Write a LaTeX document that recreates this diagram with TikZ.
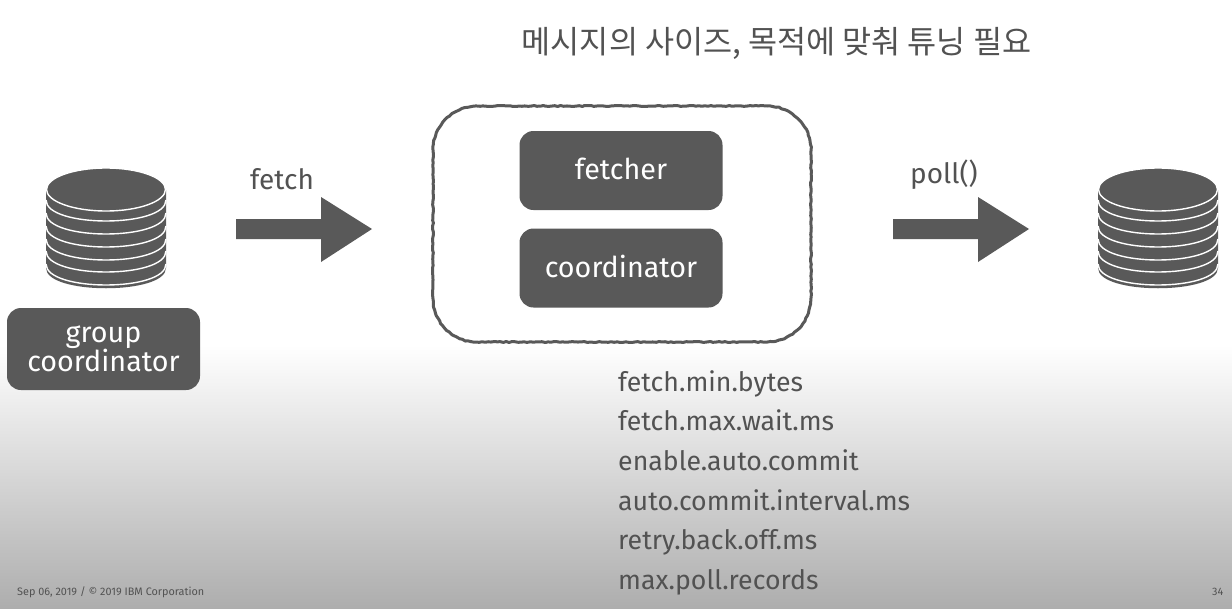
\documentclass[tikz,border=0pt]{standalone}
\usepackage{fontspec}
\setmainfont{Fira Sans}
\newfontfamily\krfont{Noto Sans CJK KR}
\usetikzlibrary{decorations.pathmorphing}
\definecolor{ink}{gray}{0.35}
\definecolor{txt}{gray}{0.32}
\definecolor{low}{gray}{0.68}
\tikzset{
  x=1pt,y=-1pt,
  box/.style={fill=ink,draw=none,rounded corners=14pt,text=white,align=center,inner sep=0pt,font=\fontsize{28.7}{26}\selectfont},
  lab/.style={text=txt,inner sep=0pt,font=\fontsize{28}{28}\selectfont},
  param/.style={text=txt,inner sep=0pt,anchor=base west,font=\fontsize{26.7}{27}\selectfont},
  tiny/.style={text=txt,inner sep=0pt,anchor=base west,font=\fontsize{10.85}{11}\selectfont},
  blockarrow/.style={fill=ink,draw=none},
  rough/.style={draw=ink,line width=3pt,line join=round,decorate,decoration={random steps,segment length=3pt,amplitude=0.5pt}},
  sep/.style={draw=white,line width=1.4pt},
  pics/stack/.style={code={
    \fill[ink] (-60,0) -- (60,0) -- (60,78) .. controls (60,105) and (-60,105) .. (-60,78) -- cycle;
    \foreach \d in {10,23,36,49,61,74}{
      \draw[sep] (-60,\d) .. controls (-60,\d+28) and (60,\d+28) .. (60,\d);
    }
    \draw[white,line width=1.4pt,fill=ink] (0,-0.5) ellipse[x radius=59.5,y radius=21.5];
  }}
}
\begin{document}
\begin{tikzpicture}
\useasboundingbox (0,0) rectangle (1232,608);
\fill[white] (0,0) rectangle (1232,345);
\shade[top color=white,bottom color=low] (0,345) rectangle (1232,608);
\node[lab,font=\krfont\fontsize{31.6}{32}\selectfont,text=txt] (title) at (776.5,43) {메시지의 사이즈, 목적에 맞춰 튜닝 필요};
\pic at (106,190) {stack};
\pic at (1158,190) {stack};
\node[box,minimum width=193pt,minimum height=82pt] (group) at (103.5,349) {group\\coordinator};
\node[lab] (fetchlab) at (282,179.5) {fetch};
\fill[blockarrow] (236,219) -- (321,219) -- (321,197) -- (372,229) -- (321,262) -- (321,239) -- (236,239) -- cycle;
\draw[rough] (477,106) -- (767,106) .. controls (791.3,106) and (811,125.7) .. (811,150) -- (811,298) .. controls (811,322.3) and (791.3,342) .. (767,342) -- (477,342) .. controls (452.7,342) and (433,322.3) .. (433,298) -- (433,150) .. controls (433,125.7) and (452.7,106) .. (477,106) -- cycle;
\node[box,minimum width=203pt,minimum height=79pt] (fetcher) at (621,170.5) {\raisebox{4pt}{fetcher}};
\node[box,minimum width=203pt,minimum height=79pt] (coord) at (621,268) {\raisebox{4pt}{coordinator}};
\node[lab] (polllab) at (944,174.5) {poll()};
\fill[blockarrow] (893,219) -- (978,219) -- (978,197) -- (1029,229) -- (978,262) -- (978,239) -- (893,239) -- cycle;
\node[param] (p1) at (618,391) {fetch.min.bytes};
\node[param] (p2) at (618,430) {fetch.max.wait.ms};
\node[param] (p3) at (618,470) {enable.auto.commit};
\node[param] (p4) at (618,510) {auto.commit.interval.ms};
\node[param] (p5) at (618,549.5) {retry.back.off.ms};
\node[param] (p6) at (618,589.5) {max.poll.records};
\node[tiny] (foot) at (17,595) {Sep 06, 2019 / © 2019 IBM Corporation};
\node[tiny] (page) at (1212,595) {34};
\end{tikzpicture}
\end{document}
